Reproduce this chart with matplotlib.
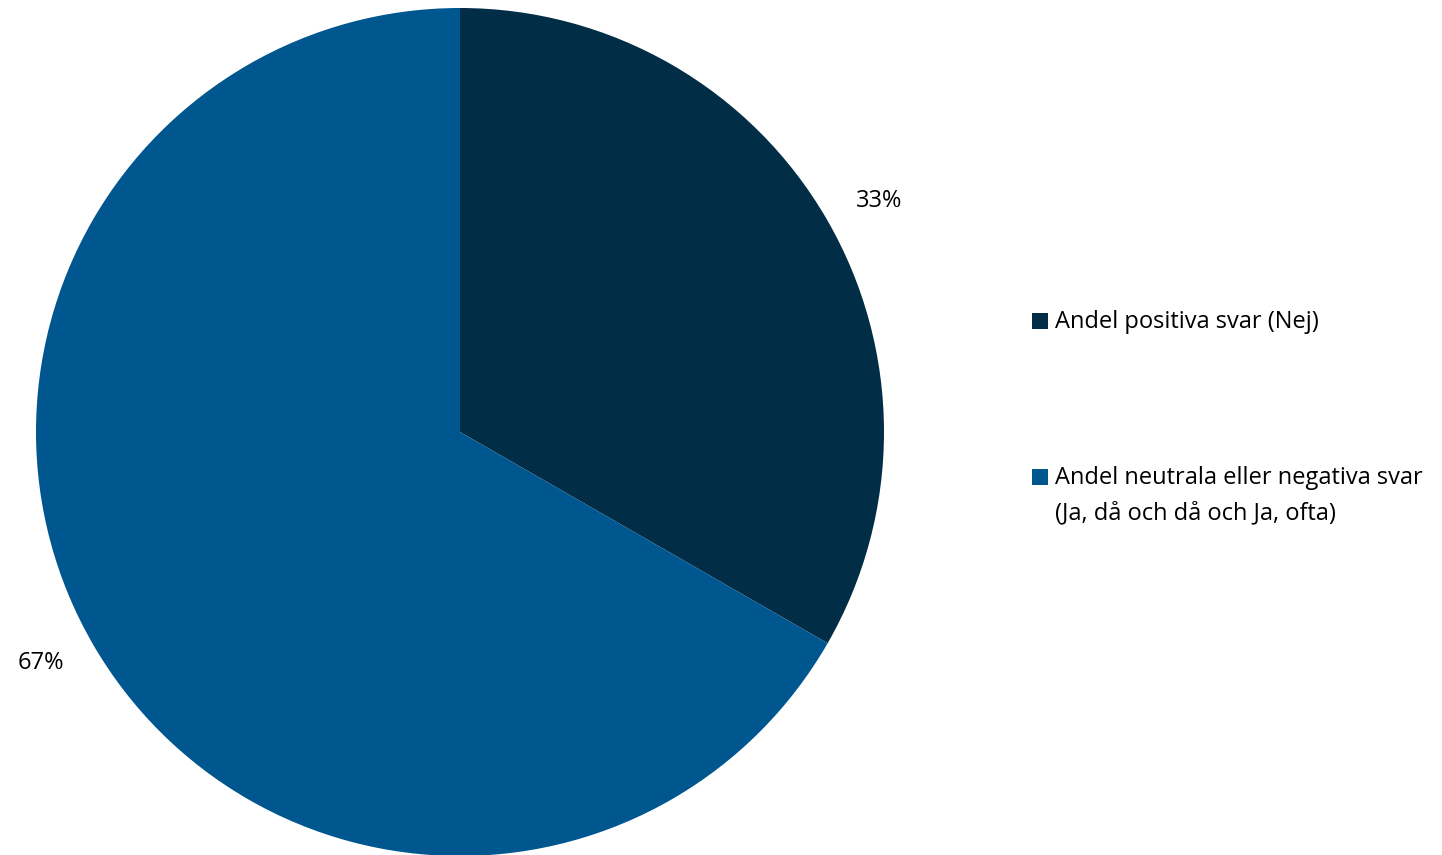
import matplotlib
matplotlib.use("Agg")
import matplotlib.pyplot as plt
from matplotlib.patches import Rectangle

categories = ["Andel positiva svar (Nej)",
              "Andel neutrala eller negativa svar\n(Ja, då och då och Ja, ofta)"]
values = [33.3, 66.7]
colors = ["#022D47", "#00568F"]

plt.rcParams['font.family'] = ['Open Sans', 'DejaVu Sans']
FS = 17

W, H = 1442, 855
fig = plt.figure(figsize=(W / 100, H / 100), dpi=100)
ax = fig.add_axes([36 / W, -1 / H, 848 / W, 848 / H])
wedges, texts, autotexts = ax.pie(values, colors=colors, startangle=90, counterclock=False,
                                  autopct=lambda p: f"{p:.0f}%", pctdistance=1.12,
                                  radius=1, textprops=dict(fontsize=FS, color="black"))
# nudge value labels slightly outward horizontally (Excel-style outside labels)
for t in autotexts:
    x, y = t.get_position()
    t.set_position((x * 1.02, y * 0.97))
ax.set_xlim(-1, 1)
ax.set_ylim(-1, 1)
ax.axis('off')

# legend drawn manually (marker aligned with first line of each label)
marker_y = [321, 477]
for lab, col, my in zip(categories, colors, marker_y):
    fig.add_artist(Rectangle((1032 / W, (H - my - 8) / H), 16 / W, 16 / H,
                             transform=fig.transFigure, facecolor=col, edgecolor='none'))
    for k, line in enumerate(lab.split("\n")):
        fig.text(1055 / W, (H - my - 7 - 35 * k) / H, line, fontsize=FS,
                 va='baseline', ha='left')

fig.savefig("out.png", dpi=100)
